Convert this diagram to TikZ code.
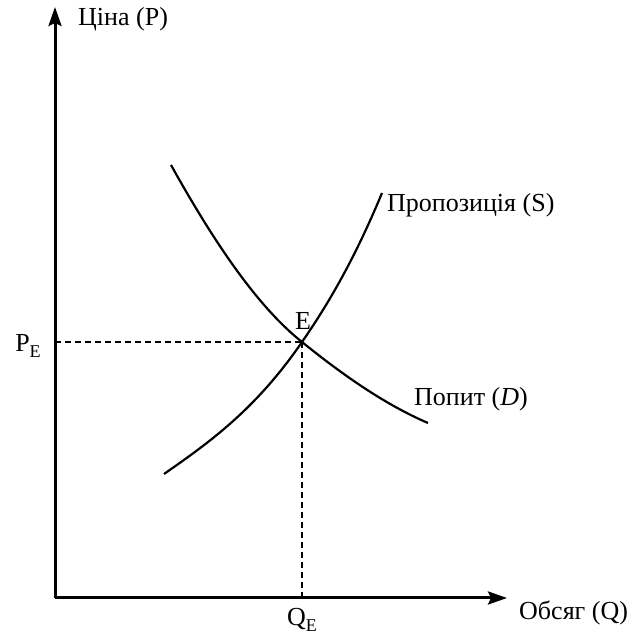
\documentclass[tikz,border=0pt]{standalone}
\usepackage{fontspec}
\setmainfont{Liberation Serif}
\usetikzlibrary{arrows.meta}
\newcommand{\mysub}[1]{\raisebox{-6pt}{\fontsize{18}{20}\selectfont #1}}
\begin{document}
\begin{tikzpicture}[x=1pt,y=1pt,
  axis/.style={line width=3pt,-{Stealth[length=19pt,width=13pt,inset=3pt]}},
  curve/.style={line width=2.2pt},
  guide/.style={line width=2pt,dash pattern=on 6pt off 4pt},
  lbl/.style={inner sep=0pt,font=\fontsize{26}{30}\selectfont}]
\useasboundingbox (0,0) rectangle (629,637);
\coordinate (O) at (55,39);
\coordinate (Ytop) at (55,630);
\coordinate (Xend) at (507,39);
\coordinate (E) at (302,295);
\coordinate (PEa) at (55,295);
\coordinate (QEa) at (302,39);
\coordinate (DA) at (171,472);
\coordinate (DB) at (428,214);
\coordinate (SA) at (164,163);
\coordinate (SB) at (382,444);
\draw[axis] (O) -- (Ytop);
\draw[axis] (O) -- (Xend);
\draw[guide] (PEa) -- (E);
\draw[guide] (E) -- (QEa);
\draw[curve] (DA) .. controls (215,393) and (258,330) .. (E)
  .. controls (344,261) and (386,232) .. (DB);
\draw[curve] (SA) .. controls (210,195) and (256,228) .. (E)
  .. controls (329,334) and (355,379) .. (SB);
\node[lbl,anchor=west] (price) at (78,618) {Ціна (P)};
\node[lbl,anchor=west] (qty) at (519,24) {Обсяг (Q)};
\node[lbl,anchor=base] (pe) at (28,285) {P\mysub{E}};
\node[lbl,anchor=base] (qe) at (302,12) {Q\mysub{E}};
\node[lbl] (elbl) at (303,316) {E};
\node[lbl,anchor=west] (slbl) at (387,432) {Пропозиція (S)};
\node[lbl,anchor=west] (dlbl) at (414,238) {Попит (\textit{D})};
\end{tikzpicture}
\end{document}
